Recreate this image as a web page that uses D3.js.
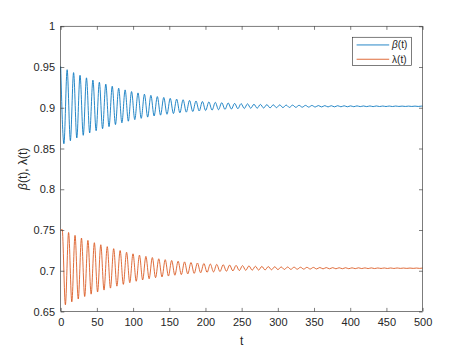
<!DOCTYPE html>
<html>
<head>
<meta charset="utf-8">
<script src="https://cdn.jsdelivr.net/npm/d3@7"></script>
<style>
  body { margin: 0; background: #fff; }
  text { font-family: 'Liberation Sans', Arial, sans-serif; fill: #262626; }
</style>
</head>
<body>
<div id="chart"></div>
<script>
'use strict'

// axis ticks
const xTicks = [0, 50, 100, 150, 200, 250, 300, 350, 400, 450, 500]
const yTicks = [0.65, 0.7, 0.75, 0.8, 0.85, 0.9, 0.95, 1]

// spacing between a peak and the next trough,
// and how far lambda lags behind beta
const halfPeriod = 4.45
const lambdaLag = 2.0

// beta(t): value at each successive peak / trough, starting at t = 0
const betaExtrema = [
  0.9506, 0.8558, 0.9467, 0.8596, 0.9431, 0.8630, 0.9398, 0.8662, 0.9367, 0.8691,
  0.9339, 0.8718, 0.9313, 0.8743, 0.9290, 0.8768, 0.9264, 0.8793, 0.9240, 0.8815,
  0.9219, 0.8835, 0.9199, 0.8854, 0.9182, 0.8870, 0.9166, 0.8885, 0.9152, 0.8899,
  0.9137, 0.8909, 0.9126, 0.8920, 0.9115, 0.8929, 0.9106, 0.8938, 0.9098, 0.8946,
  0.9090, 0.8954, 0.9083, 0.8960, 0.9077, 0.8966, 0.9071, 0.8971, 0.9066, 0.8976,
  0.9062, 0.8980, 0.9058, 0.8984, 0.9054, 0.8988, 0.9051, 0.8991, 0.9048, 0.8994,
  0.9043, 0.8994, 0.9041, 0.8997, 0.9038, 0.8999, 0.9036, 0.9001, 0.9035, 0.9002,
  0.9033, 0.9004, 0.9032, 0.9005, 0.9030, 0.9007, 0.9029, 0.9008, 0.9028, 0.9009,
  0.9027, 0.9010, 0.9026, 0.9010, 0.9025, 0.9011, 0.9025, 0.9012, 0.9024, 0.9012,
  0.9023, 0.9013, 0.9023, 0.9014, 0.9022, 0.9014, 0.9022, 0.9014, 0.9022, 0.9015,
  0.9021, 0.9015, 0.9021, 0.9015, 0.9021, 0.9016, 0.9020, 0.9016, 0.9020, 0.9016,
  0.9020, 0.9016, 0.9020
]
const betaEnd = 0.9019

// lambda(t): starting value, then each peak / trough from t = lambdaLag
const lambdaStart = 0.7495
const lambdaExtrema = [
  0.7507, 0.6583, 0.7469, 0.6619, 0.7434, 0.6653, 0.7401, 0.6684, 0.7372, 0.6713,
  0.7344, 0.6739, 0.7319, 0.6763, 0.7296, 0.6787, 0.7271, 0.6811, 0.7248, 0.6833,
  0.7227, 0.6853, 0.7208, 0.6871, 0.7191, 0.6887, 0.7176, 0.6902, 0.7162, 0.6915,
  0.7147, 0.6924, 0.7136, 0.6935, 0.7126, 0.6945, 0.7117, 0.6953, 0.7109, 0.6961,
  0.7101, 0.6968, 0.7095, 0.6975, 0.7089, 0.6980, 0.7083, 0.6985, 0.7078, 0.6990,
  0.7074, 0.6994, 0.7070, 0.6998, 0.7066, 0.7002, 0.7063, 0.7005, 0.7060, 0.7007,
  0.7055, 0.7008, 0.7053, 0.7010, 0.7051, 0.7012, 0.7049, 0.7014, 0.7047, 0.7016,
  0.7046, 0.7017, 0.7044, 0.7019, 0.7043, 0.7020, 0.7042, 0.7021, 0.7041, 0.7022,
  0.7040, 0.7023, 0.7039, 0.7024, 0.7038, 0.7024, 0.7037, 0.7025, 0.7037, 0.7025,
  0.7036, 0.7026, 0.7036, 0.7027, 0.7035, 0.7027, 0.7035, 0.7027, 0.7034, 0.7028,
  0.7034, 0.7028, 0.7034, 0.7028, 0.7034, 0.7029, 0.7033, 0.7029, 0.7033, 0.7029,
  0.7033, 0.7029
]
const lambdaEnd = 0.7033

const width = 467
const height = 350
const margin = { top: 26.25, right: 44.4, bottom: 38.5, left: 60.7 }
const innerW = width - margin.left - margin.right
const innerH = height - margin.top - margin.bottom
const axisColor = '#262626'
const tickLen = 3.6

const betaData = betaExtrema.map((v, i) => ({ t: i * halfPeriod, v }))
betaData.push({ t: 500, v: betaEnd })

const lambdaData = [{ t: 0, v: lambdaStart }]
lambdaExtrema.forEach((v, i) => lambdaData.push({ t: lambdaLag + i * halfPeriod, v }))
lambdaData.push({ t: 500, v: lambdaEnd })

const series = [
  { name: 'beta', data: betaData, color: '#0072BD' },
  { name: 'lambda', data: lambdaData, color: '#D95319' }
]

const svg = d3.select('#chart')
  .append('svg')
  .attr('width', width)
  .attr('height', height)

const g = svg.append('g')
  .attr('transform', `translate(${margin.left}, ${margin.top})`)

const x = d3.scaleLinear().domain([0, 500]).range([0, innerW])
const y = d3.scaleLinear().domain([0.65, 1]).range([innerH, 0])

const line = d3.line()
  .x((d) => x(d.t))
  .y((d) => y(d.v))
  .curve(d3.curveMonotoneX)

g.selectAll('.series')
  .data(series)
  .enter()
  .append('path')
  .attr('class', 'series')
  .attr('fill', 'none')
  .attr('stroke', (d) => d.color)
  .attr('stroke-width', 0.85)
  .attr('d', (d) => line(d.data))

// axes, ticks pointing inward, mirrored on top and right
function styleAxis (sel) {
  sel.select('.domain').remove()
  sel.selectAll('.tick line').attr('stroke', axisColor).attr('stroke-width', 0.6)
  sel.selectAll('.tick text').attr('fill', axisColor).style('font-size', '11px')
}

g.append('g')
  .attr('transform', `translate(0, ${innerH})`)
  .call(d3.axisBottom(x).tickValues(xTicks).tickSizeInner(-tickLen).tickSizeOuter(0).tickPadding(6.5).tickFormat(d3.format('d')))
  .call(styleAxis)

g.append('g')
  .call(d3.axisTop(x).tickValues(xTicks).tickSizeInner(-tickLen).tickSizeOuter(0).tickFormat(''))
  .call(styleAxis)

g.append('g')
  .call(d3.axisLeft(y).tickValues(yTicks).tickSizeInner(-tickLen).tickSizeOuter(0).tickPadding(5.7).tickFormat((d) => d3.format('')(+d.toFixed(2))))
  .call(styleAxis)

g.append('g')
  .attr('transform', `translate(${innerW}, 0)`)
  .call(d3.axisRight(y).tickValues(yTicks).tickSizeInner(-tickLen).tickSizeOuter(0).tickFormat(''))
  .call(styleAxis)

g.append('rect')
  .attr('width', innerW)
  .attr('height', innerH)
  .attr('fill', 'none')
  .attr('stroke', axisColor)
  .attr('stroke-width', 0.6)

// axis labels
g.append('text')
  .attr('x', innerW / 2)
  .attr('y', innerH + 33)
  .attr('text-anchor', 'middle')
  .style('font-size', '12px')
  .text('t')

const yLabel = g.append('text')
  .attr('transform', `translate(${23 - margin.left}, ${innerH / 2}) rotate(-90)`)
  .attr('text-anchor', 'middle')
  .attr('dy', '0.35em')
  .style('font-size', '12px')
yLabel.append('tspan').style('font-style', 'italic').text('β')
yLabel.append('tspan').text('(t), λ(t)')

// legend
const legend = g.append('g')
  .attr('transform', `translate(${innerW - 70}, 11)`)

legend.append('rect')
  .attr('width', 59)
  .attr('height', 28.4)
  .attr('fill', '#fff')
  .attr('stroke', axisColor)
  .attr('stroke-width', 0.6)

const items = legend.selectAll('.item')
  .data(series)
  .enter()
  .append('g')
  .attr('transform', (d, i) => `translate(0, ${7.7 + i * 14.3})`)

items.append('line')
  .attr('x1', 4)
  .attr('x2', 36.6)
  .attr('stroke', (d) => d.color)
  .attr('stroke-width', 0.85)

items.append('text')
  .attr('x', 39.5)
  .attr('dy', '0.35em')
  .style('font-size', '10px')
  .each(function (d) {
    const t = d3.select(this)
    if (d.name === 'beta') {
      t.append('tspan').style('font-style', 'italic').text('β')
    } else {
      t.append('tspan').text('λ')
    }
    t.append('tspan').text('(t)')
  })
</script>
</body>
</html>
